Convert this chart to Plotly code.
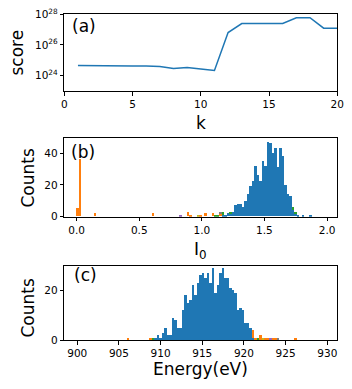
import plotly.graph_objects as go

# ---------------- data ----------------
k_vals = list(range(1, 21))
score_vals = [4.6e24, 4.4e24, 4.4e24, 4.3e24, 4.2e24, 4.2e24, 3.9e24, 2.9e24, 3.4e24, 2.75e24,
              2.2e24, 6.5e26, 2.5e27, 2.5e27, 2.5e27, 2.5e27, 6.0e27, 6.0e27, 1.25e27, 1.25e27]

# panel (b): I0 histogram, bin width 0.02 (bin centres, counts)
b_width = 0.02
b_blue_x = [1.17, 1.19, 1.21, 1.23, 1.25, 1.27, 1.29, 1.31, 1.33, 1.35, 1.37, 1.39, 1.41, 1.43,
            1.45, 1.47, 1.49, 1.51, 1.53, 1.55, 1.57, 1.59, 1.61, 1.63, 1.65, 1.67, 1.69, 1.71,
            1.73, 1.75, 1.77, 1.81, 1.87]
b_blue_y = [1, 1, 2, 2, 3, 7, 8, 8, 6, 10, 14, 19, 22, 32, 26, 22, 35, 32, 47, 46, 40, 43, 31,
            43, 38, 20, 14, 13, 4, 2, 1, 1, 1]
b_orange_x = [0.01, 0.03, 0.15, 0.61, 0.89, 0.91, 0.99, 1.03, 1.09, 1.15]
b_orange_y = [5, 36, 2, 2, 3, 1, 1, 2, 2, 2]
b_green_x = [1.11, 1.13, 1.17, 1.23, 1.73, 1.75]
b_green_y = [1, 1, 2, 1, 2, 1]
b_purple_x = [0.83]
b_purple_y = [1]
b_gray_x = [1.15]
b_gray_y = [1]
b_olive_x = [0.97]
b_olive_y = [1]

# panel (c): Energy histogram, bin width 0.3 eV
c_width = 0.3
c_blue_x = [909.45, 909.75, 910.05, 910.35, 910.65, 910.95, 911.25, 911.55, 911.85, 912.15,
            912.45, 912.75, 913.05, 913.35, 913.65, 913.95, 914.25, 914.55, 914.85, 915.15,
            915.45, 915.75, 916.05, 916.35, 916.65, 916.95, 917.25, 917.55, 917.85, 918.15,
            918.45, 918.75, 919.05, 919.35, 919.65, 919.95, 920.25, 920.55, 920.85, 921.15]
c_blue_y = [1, 2, 1, 3, 5, 2, 2, 9, 8, 5, 5, 12, 18, 15, 16, 22, 18, 23, 26, 27, 25, 27, 23,
            29, 19, 22, 27, 29, 25, 25, 21, 20, 19, 12, 13, 12, 7, 7, 5, 1]
c_orange_x = [906.15, 908.85, 921.15, 921.45, 922.05, 922.65, 922.95, 923.55, 923.85, 926.25]
c_orange_y = [1, 1, 3, 1, 2, 1, 1, 1, 1, 1]
c_green_x = [909.15, 921.75]
c_green_y = [1, 1]
c_olive_x = [922.35]
c_olive_y = [1]
c_purple_x = [923.25]
c_purple_y = [1]
c_gray_x = [924.15]
c_gray_y = [1]

# ---------------- styling ----------------
W, H = 352, 389
FONT = "DejaVu Sans"
TICK = 10.5
LAB = 17
BLUE, ORANGE, GREEN, PURPLE, GRAY, OLIVE = "#1f77b4", "#ff7f0e", "#2ca02c", "#9467bd", "#7f7f7f", "#bcbd22"

def px_x(p):
    return p / W

def px_y(p):
    return 1 - p / H

xdom = [px_x(64.3), px_x(337.3)]
dom_a = [px_y(91), px_y(14.3)]
dom_b = [px_y(216.7), px_y(138.3)]
dom_c = [px_y(340.3), px_y(266)]

fig = go.Figure()
fig.add_trace(go.Scatter(x=k_vals, y=score_vals, mode="lines", line=dict(color=BLUE, width=1.5),
                         xaxis="x", yaxis="y", showlegend=False))

def add_bars(xs, ys, color, width, xa, ya):
    fig.add_trace(go.Bar(x=xs, y=ys, width=width, marker=dict(color=color, line=dict(width=0)),
                         xaxis=xa, yaxis=ya, showlegend=False))

for xs, ys, col in [(b_blue_x, b_blue_y, BLUE), (b_orange_x, b_orange_y, ORANGE),
                    (b_green_x, b_green_y, GREEN), (b_purple_x, b_purple_y, PURPLE),
                    (b_gray_x, b_gray_y, GRAY), (b_olive_x, b_olive_y, OLIVE)]:
    add_bars(xs, ys, col, b_width, "x2", "y2")

for xs, ys, col in [(c_blue_x, c_blue_y, BLUE), (c_orange_x, c_orange_y, ORANGE),
                    (c_green_x, c_green_y, GREEN), (c_purple_x, c_purple_y, PURPLE),
                    (c_gray_x, c_gray_y, GRAY), (c_olive_x, c_olive_y, OLIVE)]:
    add_bars(xs, ys, col, c_width, "x3", "y3")

axis_common = dict(showline=True, linecolor="black", linewidth=1, mirror=True, ticks="outside",
                   ticklen=3.5, tickwidth=0.8, tickcolor="black", showgrid=False, zeroline=False,
                   tickfont=dict(family=FONT, size=TICK, color="black"), automargin=False)

fig.update_layout(
    width=W, height=H, margin=dict(l=0, r=0, t=0, b=0),
    paper_bgcolor="white", plot_bgcolor="white", barmode="stack", bargap=0,
    font=dict(family=FONT, color="black"),
    xaxis=dict(domain=xdom, anchor="y", range=[0, 20], tickvals=[0, 5, 10, 15, 20], **axis_common),
    yaxis=dict(domain=dom_a, anchor="x", type="log", range=[23, 28],
               tickvals=[1e24, 1e26, 1e28],
               ticktext=["10<sup>24</sup>", "10<sup>26</sup>", "10<sup>28</sup>"], **axis_common),
    xaxis2=dict(domain=xdom, anchor="y2", range=[-0.099, 2.082],
                tickvals=[0, 0.5, 1.0, 1.5, 2.0], ticktext=["0.0", "0.5", "1.0", "1.5", "2.0"],
                **axis_common),
    yaxis2=dict(domain=dom_b, anchor="x2", range=[0, 49.35], tickvals=[0, 20, 40], **axis_common),
    xaxis3=dict(domain=xdom, anchor="y3", range=[898.45, 931.2],
                tickvals=[900, 905, 910, 915, 920, 925, 930], **axis_common),
    yaxis3=dict(domain=dom_c, anchor="x3", range=[0, 29.7], tickvals=[0, 20], **axis_common),
)

def ann(text, x, y, angle=0, size=LAB, xanchor="center", yanchor="middle"):
    fig.add_annotation(text=text, x=x, y=y, xref="paper", yref="paper", showarrow=False,
                       textangle=angle, xanchor=xanchor, yanchor=yanchor,
                       font=dict(family=FONT, size=size, color="black"))

ann("score", px_x(16.5), px_y(53), angle=-90)
ann("Counts", px_x(27.5), px_y(178), angle=-90)
ann("Counts", px_x(27.5), px_y(308), angle=-90)
ann("k", px_x(200.8), px_y(123))
ann("I<sub>0</sub>", px_x(200.8), px_y(250))
ann("Energy(eV)", px_x(200.8), px_y(369))
ann("(a)", px_x(70), px_y(26), xanchor="left")
ann("(b)", px_x(69), px_y(152), xanchor="left")
ann("(c)", px_x(72), px_y(275), xanchor="left")

fig.write_html("out.html", config={"displayModeBar": False},
               post_script="document.body.style.margin='0px';document.body.style.overflow='hidden';")
